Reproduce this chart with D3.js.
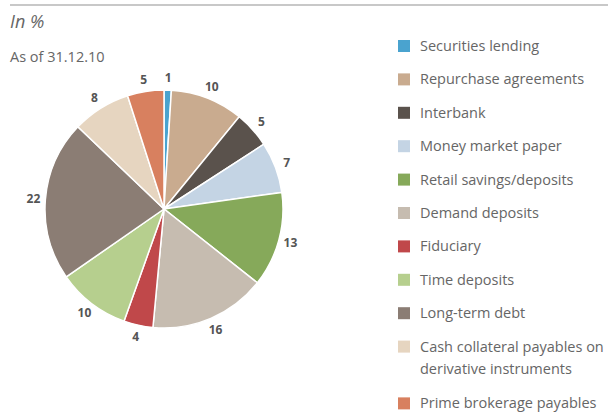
<!DOCTYPE html>
<html>
<head>
<meta charset="utf-8">
<script src="https://cdn.jsdelivr.net/npm/d3@7"></script>
<style>
  body { margin: 0; background: #fff; }
  text { font-family: "Open Sans", "Noto Sans", sans-serif; }
</style>
</head>
<body>
<div id="chart"></div>
<script>
const w = 608;
const h = 413;

// data
const categories = ["Securities lending", "Repurchase agreements", "Interbank", "Money market paper",
  "Retail savings/deposits", "Demand deposits", "Fiduciary", "Time deposits", "Long-term debt",
  "Cash collateral payables on derivative instruments", "Prime brokerage payables"];
const values = [1, 10, 5, 7, 13, 16, 4, 10, 22, 8, 5];
const colors = ["#4aa3cf", "#c9ab8f", "#5a524c", "#c4d4e4", "#86a95a", "#c6bcb0",
  "#c0484a", "#b6cf8e", "#8b7d74", "#e6d5c0", "#d8805f"];
// legend label lines (wrapped as in the source)
const legendLines = [["Securities lending"], ["Repurchase agreements"], ["Interbank"], ["Money market paper"],
  ["Retail savings/deposits"], ["Demand deposits"], ["Fiduciary"], ["Time deposits"], ["Long-term debt"],
  ["Cash collateral payables on", "derivative instruments"], ["Prime brokerage payables"]];

const cx = 164, cy = 209, r = 119;
const labelR = 131;

const svg = d3.select("#chart").append("svg")
  .attr("width", w).attr("height", h);

// top rule
svg.append("line")
  .attr("x1", 10).attr("x2", w).attr("y1", 5).attr("y2", 5)
  .attr("stroke", "#c8c8c8").attr("stroke-width", 2);

svg.append("text")
  .attr("x", 10).attr("y", 28)
  .attr("font-size", 18).attr("font-style", "italic")
  .attr("fill", "#666").text("In %");

svg.append("text")
  .attr("x", 10).attr("y", 62)
  .attr("font-size", 14.5).attr("fill", "#666")
  .text("As of 31.12.10");

const color = d3.scaleOrdinal().domain(categories).range(colors);

const pie = d3.pie().sort(null).value(d => d.v);
const arcs = pie(categories.map((c, i) => ({ c: c, v: values[i] })));
const arc = d3.arc().innerRadius(0).outerRadius(r);
const labelArc = d3.arc().innerRadius(labelR).outerRadius(labelR);

const g = svg.append("g").attr("transform", `translate(${cx},${cy})`);

g.selectAll("path")
  .data(arcs)
  .enter().append("path")
  .attr("d", arc)
  .attr("fill", d => color(d.data.c))
  .attr("stroke", "#fff")
  .attr("stroke-width", 1.5);

g.selectAll("text.lbl")
  .data(arcs)
  .enter().append("text")
  .attr("class", "lbl")
  .attr("transform", d => `translate(${labelArc.centroid(d)})`)
  .attr("text-anchor", "middle")
  .attr("dy", "0.35em")
  .attr("font-size", 12)
  .attr("font-weight", "bold")
  .attr("fill", "#555")
  .text(d => d.data.v);

// legend
const legY = d3.scaleLinear().domain([0, 1]).range([46, 79.4]);
const legend = svg.append("g").attr("id", "legend");
const items = legend.selectAll("g")
  .data(categories)
  .enter().append("g")
  .attr("transform", (d, i) => `translate(398,${legY(i + (i > 9 ? 0.7 : 0))})`);

items.append("rect")
  .attr("x", 0).attr("y", -6).attr("width", 12).attr("height", 12)
  .attr("fill", d => color(d));

items.append("text")
  .attr("x", 22).attr("y", 0)
  .attr("font-size", 14.5)
  .attr("fill", "#666")
  .selectAll("tspan")
  .data((d, i) => legendLines[i])
  .enter().append("tspan")
  .attr("x", 22)
  .attr("dy", (d, j) => j === 0 ? "0.35em" : "1.55em")
  .text(d => d);
</script>
</body>
</html>
